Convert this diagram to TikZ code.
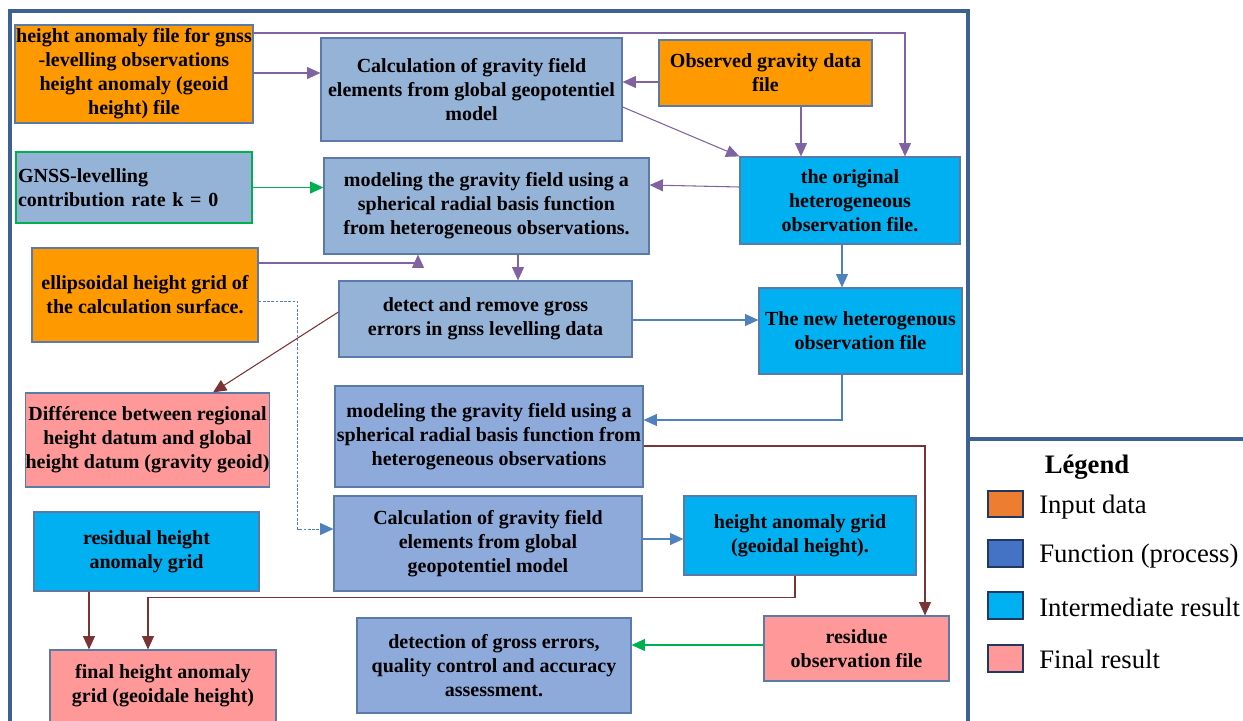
\documentclass[tikz,border=0pt]{standalone}
\usepackage{fontspec}
\setmainfont{Liberation Serif}
\usepackage{tikz}
\usetikzlibrary{arrows.meta}
\definecolor{inputorange}{HTML}{FF9900}
\definecolor{procblue}{HTML}{95B3D7}
\definecolor{procbluelow}{HTML}{8EAADB}
\definecolor{midcyan}{HTML}{00B0F0}
\definecolor{finalpink}{HTML}{FF9999}
\definecolor{boxline}{HTML}{5A7BAA}
\definecolor{framedark}{HTML}{3D6190}
\definecolor{linkpurple}{HTML}{8064A2}
\definecolor{linkblue}{HTML}{4F81BD}
\definecolor{linkred}{HTML}{7B3434}
\definecolor{linkgreen}{HTML}{00B050}
\definecolor{legorange}{HTML}{ED7D31}
\definecolor{legblue}{HTML}{4472C4}
\definecolor{legline}{HTML}{1F3864}

\begin{document}
\begin{tikzpicture}[x=0.75pt,y=-0.75pt,
	box/.style={draw=boxline, line width=0.9pt, inner sep=0pt, align=center,
		font=\bfseries\fontsize{15}{18}\selectfont},
	inbox/.style={box, fill=inputorange},
	procbox/.style={box, fill=procblue},
	proclow/.style={box, fill=procbluelow},
	midbox/.style={box, fill=midcyan},
	finbox/.style={box, fill=finalpink},
	link/.style={line width=0.8pt, -{Triangle[length=10pt,width=9pt]}},
	plink/.style={link, linkpurple},
	blink/.style={link, linkblue},
	rlink/.style={link, linkred},
	glink/.style={link, linkgreen},
	legsq/.style={draw=legline, line width=1.3pt, minimum width=26pt, minimum height=20pt, inner sep=0pt},
	legtext/.style={anchor=west, inner sep=0pt, font=\fontsize{20}{24}\selectfont}]
	\useasboundingbox (0,0) rectangle (1243,721);
	\draw[framedark, line width=2.4pt] (10,11) rectangle (968,740);
	\draw[framedark, line width=2.4pt] (968,439) -- (1260,439);

	\node[inbox, minimum width=178.5pt, minimum height=73.5pt] (inA) at (134,74)
		{height anomaly file for gnss\\-levelling observations\\height anomaly (geoid\\height) file};
	\node[procbox, minimum width=225.75pt, minimum height=77.25pt] (calcTop) at (471.5,89.5)
		{Calculation of gravity field\\elements from global geopotentiel\\model};
	\node[inbox, minimum width=159.75pt, minimum height=49.5pt] (obsG) at (765.5,73)
		{Observed gravity data\\file};
	\node[midbox, minimum width=165pt, minimum height=65.25pt] (origObs) at (850,200.5)
		{the original\\heterogeneous\\observation file.};
	\node[procbox, draw=linkgreen, align=left, text width=174pt, inner xsep=1.5pt, minimum height=53.25pt] (gnssK) at (134,187.5)
		{GNSS-levelling\\contribution rate k = 0};
	\node[procbox, minimum width=243.75pt, minimum height=72pt] (model1) at (486.5,206)
		{modeling the gravity field using a\\spherical radial basis function\\from heterogeneous observations.};
	\node[inbox, minimum width=169.5pt, minimum height=70.5pt] (ellip) at (145,295)
		{ellipsoidal height grid of\\the calculation surface.};
	\node[procbox, minimum width=219.75pt, minimum height=57pt] (detect) at (485.5,319)
		{detect and remove gross\\errors in gnss levelling data};
	\node[midbox, minimum width=152.25pt, minimum height=64.5pt] (newObs) at (860.5,331)
		{The new heterogenous\\observation file};
	\node[proclow, minimum width=231pt, minimum height=75.75pt] (model2) at (489,436.5)
		{modeling the gravity field using a\\spherical radial basis function from\\heterogeneous observations};
	\node[finbox, minimum width=182.25pt, minimum height=70.5pt] (diff) at (147.5,440)
		{Différence between regional\\height datum and global\\height datum (gravity geoid)};
	\node[proclow, minimum width=231pt, minimum height=71.25pt] (calc2) at (488,543.5)
		{Calculation of gravity field\\elements from global\\geopotentiel model};
	\node[midbox, minimum width=174pt, minimum height=59.25pt] (haGrid) at (800,535.5)
		{height anomaly grid\\(geoidal height).};
	\node[midbox, minimum width=168.75pt, minimum height=59.25pt] (resid) at (146.5,551.5)
		{residual height\\anomaly grid};
	\node[finbox, minimum width=169.5pt, minimum height=54pt] (finalG) at (163,686)
		{final height anomaly\\grid (geoidale height)};
	\node[proclow, minimum width=205.5pt, minimum height=71.25pt] (detGross) at (494,665.5)
		{detection of gross errors,\\quality control and accuracy\\assessment.};
	\node[finbox, minimum width=138.75pt, minimum height=48.75pt] (residue) at (856.5,648.5)
		{residue\\observation file};

	\draw[plink] (inA.east |- 0,73) -- (calcTop.west |- 0,73);
	\draw[plink] (inA.east |- 0,33) -| (origObs.north -| 905,0);
	\draw[plink] (obsG.west |- 0,82) -- (calcTop.east |- 0,82);
	\draw[plink] (obsG.south -| 801,0) -- (origObs.north -| 801,0);
	\draw[plink] (calcTop.east |- 0,107) -- (origObs.north west);
	\draw[plink] (origObs.west |- 0,187) -- (model1.east |- 0,185);
	\draw[glink] (gnssK.east) -- (gnssK.east -| model1.west);
	\draw[plink] (ellip.east |- 0,263) -| (model1.south -| 418,0);
	\draw[plink] (model1.south -| 518,0) -- (detect.north -| 518,0);
	\draw[blink] (detect.east |- 0,320) -- (newObs.west |- 0,320);
	\draw[blink] (origObs.south -| 842,0) -- (newObs.north -| 842,0);
	\draw[blink] (newObs.south -| 842,0) |- (model2.east |- 0,420);
	\draw[rlink] (model2.east |- 0,446) -| (residue.north -| 925,0);
	\draw[rlink] (detect.west |- 0,312) -- (diff.north -| 213,0);
	\draw[blink, line width=0.7pt, dash pattern=on 2pt off 1.2pt] (ellip.east |- 0,301) -- ++(39,0) |- (calc2.west |- 0,529);
	\draw[blink] (calc2.east |- 0,539) -- (haGrid.west |- 0,539);
	\draw[rlink] (haGrid.south -| 795,0) -- ++(0,22) -| (finalG.north -| 148,0);
	\draw[rlink] (resid.south -| 89,0) -- (finalG.north -| 89,0);
	\draw[glink] (residue.west |- 0,645) -- (detGross.east |- 0,645);

	\node[font=\bfseries\fontsize{20}{24}\selectfont, inner sep=0pt] (legTitle) at (1087,467) {Légend};
	\node[legsq, fill=legorange] (legIn) at (1005.5,504) {};
	\node[legsq, fill=legblue] (legFn) at (1005.5,553.5) {};
	\node[legsq, fill=midcyan] (legMid) at (1005.5,605.5) {};
	\node[legsq, fill=finalpink] (legFin) at (1005.5,658.5) {};
	\node[legtext] (legInT) at (1039,507) {Input data};
	\node[legtext] (legFnT) at (1039,556) {Function (process)};
	\node[legtext] (legMidT) at (1039,607) {Intermediate result};
	\node[legtext] (legFinT) at (1039,659) {Final result};
\end{tikzpicture}
\end{document}
